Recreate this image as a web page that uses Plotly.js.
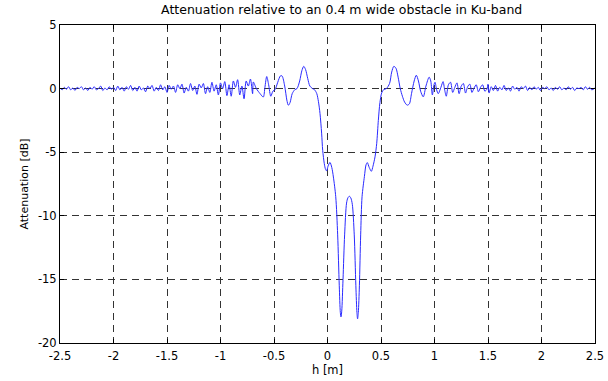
<!DOCTYPE html>
<html>
<head>
<meta charset="utf-8">
<script src="https://cdn.plot.ly/plotly-3.0.1.min.js"></script>
<style>html,body{margin:0;padding:0;background:#fff;}#chart{width:608px;height:381px;}</style>
</head>
<body>
<div id="chart"></div>
<script>
// Far left ripples (h in m, attenuation in dB)
var leftX = [-2.50,-2.48,-2.46,-2.44,-2.42,-2.40,-2.38,-2.36,-2.34,-2.32,-2.30,-2.28,-2.26,-2.24,-2.22,-2.20,-2.18,-2.16,-2.14,-2.12,-2.10,-2.08,-2.06,-2.04,-2.02,-2.00,-1.98,-1.96,-1.94,-1.92,-1.90,-1.88,-1.86,-1.84,-1.82,-1.80,-1.78,-1.76,-1.74,-1.72,-1.70,-1.68,-1.66,-1.64,-1.62,-1.60,-1.58,-1.56,-1.54,-1.52,-1.50,-1.48,-1.46,-1.44,-1.42,-1.40,-1.38,-1.36,-1.34,-1.32,-1.30,-1.28,-1.26,-1.24,-1.22,-1.20,-1.18,-1.16,-1.14,-1.12,-1.10,-1.08,-1.06,-1.04,-1.02,-1.00,-0.98,-0.96,-0.94,-0.92,-0.90,-0.88,-0.86,-0.84,-0.82,-0.80,-0.78,-0.76,-0.74,-0.72,-0.70];
var leftY = [0.05,-0.10,0.10,-0.05,0.15,-0.10,0.05,-0.15,0.10,0.00,0.15,-0.10,0.05,-0.15,0.10,-0.05,0.15,-0.10,0.00,0.20,-0.15,0.05,-0.10,0.15,-0.05,0.10,-0.15,0.20,-0.10,0.10,-0.20,0.15,-0.05,0.25,-0.15,0.10,-0.20,0.20,-0.10,0.05,-0.25,0.20,0.00,0.25,-0.20,0.10,-0.15,0.30,-0.10,0.15,-0.30,0.25,-0.05,0.20,-0.30,0.30,0.00,0.35,-0.35,0.10,-0.20,0.40,-0.15,0.20,-0.45,0.35,0.05,0.40,-0.40,0.15,-0.30,0.50,-0.20,0.30,-0.50,0.45,0.00,0.55,-0.55,0.30,-0.60,0.60,0.10,0.70,-0.50,0.20,-0.80,0.60,0.20,0.75,-0.40];

// Central diffraction region
var centerX = [-0.693,-0.665,-0.63,-0.60,-0.585,-0.568,-0.55,-0.53,-0.51,-0.49,-0.465,-0.44,-0.425,-0.40,-0.38,-0.366,-0.35,-0.33,-0.305,-0.285,-0.26,-0.24,-0.222,-0.205,-0.185,-0.165,-0.14,-0.12,-0.10,-0.085,-0.07,-0.055,-0.045,-0.03,-0.018,-0.008,0.005,0.023,0.04,0.055,0.077,0.095,0.11,0.12,0.126,0.133,0.145,0.16,0.178,0.19,0.204,0.218,0.232,0.25,0.265,0.275,0.281,0.288,0.298,0.31,0.323,0.345,0.36,0.372,0.39,0.41,0.425,0.444,0.46,0.475,0.49,0.506,0.525,0.55];
var centerY = [0.52,0.0,-0.4,-0.66,0.1,0.95,0.3,-0.6,-0.2,-0.08,0.5,1.0,1.0,0.2,-0.9,-1.31,-1.1,-0.4,-0.08,0.0,0.6,1.4,1.75,1.5,0.8,0.2,0.0,-0.1,-0.4,-1.0,-1.96,-3.5,-4.85,-5.9,-6.35,-6.47,-6.1,-5.8,-6.2,-6.95,-8.5,-11.5,-15.5,-17.6,-17.95,-17.5,-15.0,-11.5,-9.0,-8.6,-8.46,-8.6,-9.1,-11.5,-15.5,-17.6,-18.1,-17.6,-15.5,-11.5,-8.5,-6.9,-6.0,-5.82,-6.2,-6.5,-6.1,-5.37,-4.3,-2.5,-1.1,-0.35,-0.08,0.0];

// Right ripples
var rightX = [0.58,0.60,0.62,0.64,0.66,0.68,0.70,0.72,0.745,0.765,0.785,0.81,0.83,0.85,0.87,0.895,0.92,0.95,0.965,0.98,0.995,1.005,1.02,1.035,1.06,1.08,1.095,1.11,1.13,1.15,1.17,1.19,1.21,1.23,1.25,1.27,1.29,1.31,1.33,1.35,1.37,1.39,1.41,1.43,1.45,1.47,1.49,1.50,1.51,1.53,1.55,1.57,1.59,1.61,1.63,1.65,1.67,1.69,1.71,1.73,1.75,1.77,1.79,1.81,1.83,1.85,1.87,1.89,1.91,1.93,1.95,1.97,1.99,2.01,2.03,2.05,2.07,2.09,2.11,2.13,2.15,2.17,2.19,2.21,2.23,2.25,2.27,2.29,2.31,2.33,2.35,2.37,2.39,2.41,2.43,2.45,2.47,2.50];
var rightY = [0.4,1.3,1.75,1.6,0.9,0.0,-0.6,-1.05,-1.3,-1.2,-0.4,0.6,1.05,0.6,-0.2,-0.65,0.2,0.9,0.6,-0.5,0.3,0.5,-0.1,-0.4,0.1,0.55,-0.1,-0.6,0.3,0.5,-0.3,0.1,0.45,-0.4,0.2,0.4,-0.35,0.15,0.35,-0.3,0.05,0.3,-0.25,0.1,0.3,-0.2,-0.05,0.35,-0.35,0.15,-0.15,0.25,-0.2,0.1,-0.1,0.25,-0.15,0.05,-0.2,0.2,-0.05,0.1,-0.2,0.15,0.0,0.2,-0.15,0.1,-0.1,0.15,-0.05,0.1,-0.15,0.1,0.0,0.15,-0.1,0.05,-0.15,0.1,-0.05,0.15,-0.1,0.05,-0.1,0.15,-0.05,0.1,-0.15,0.05,0.0,0.1,-0.1,0.15,-0.05,0.1,-0.1,0.05];

var xTicks = [-2.5,-2,-1.5,-1,-0.5,0,0.5,1,1.5,2,2.5];
var xTickText = ['-2.5','-2','-1.5','-1','-0.5','0','0.5','1','1.5','2','2.5'];
var yTicks = [-20,-15,-10,-5,0,5];
var yTickText = ['-20','-15','-10','-5','0','5'];

var hx = leftX.concat(centerX, rightX);
var att = leftY.concat(centerY, rightY);

var fontFam = 'DejaVu Sans, Liberation Sans, Arial, sans-serif';
var trace = {x: hx, y: att, type: 'scatter', mode: 'lines',
  line: {color: '#2a2aff', width: 1, shape: 'spline', smoothing: 0.8}, hoverinfo: 'none'};

var axisCommon = {
  showline: true, mirror: 'ticks', linecolor: '#000', linewidth: 1,
  ticks: 'inside', ticklen: 4, tickcolor: '#000',
  showgrid: true, gridcolor: '#333', gridwidth: 1, griddash: '7px,5px',
  zeroline: false, tickfont: {family: fontFam, size: 11.5, color: '#000'}
};

var layout = {
  width: 608, height: 381,
  margin: {l: 60, r: 13, t: 25, b: 38},
  paper_bgcolor: '#fff', plot_bgcolor: '#fff',
  showlegend: false,
  title: {text: 'Attenuation relative to an 0.4 m wide obstacle in Ku-band',
    font: {family: fontFam, size: 12.5, color: '#000'},
    x: 0.562, xanchor: 'center', y: 0.975, yanchor: 'middle'},
  xaxis: Object.assign({}, axisCommon, {range: [-2.5, 2.5], tickvals: xTicks, ticktext: xTickText,
    ticklabelstandoff: 2,
    title: {text: 'h [m]', font: {family: fontFam, size: 11.5, color: '#000'}, standoff: 1}}),
  yaxis: Object.assign({}, axisCommon, {range: [-20, 5], tickvals: yTicks, ticktext: yTickText,
    title: {text: 'Attenuation [dB]', font: {family: fontFam, size: 11, color: '#000'}, standoff: 7}})
};

Plotly.newPlot('chart', [trace], layout, {staticPlot: true, displayModeBar: false});
</script>
</body>
</html>
